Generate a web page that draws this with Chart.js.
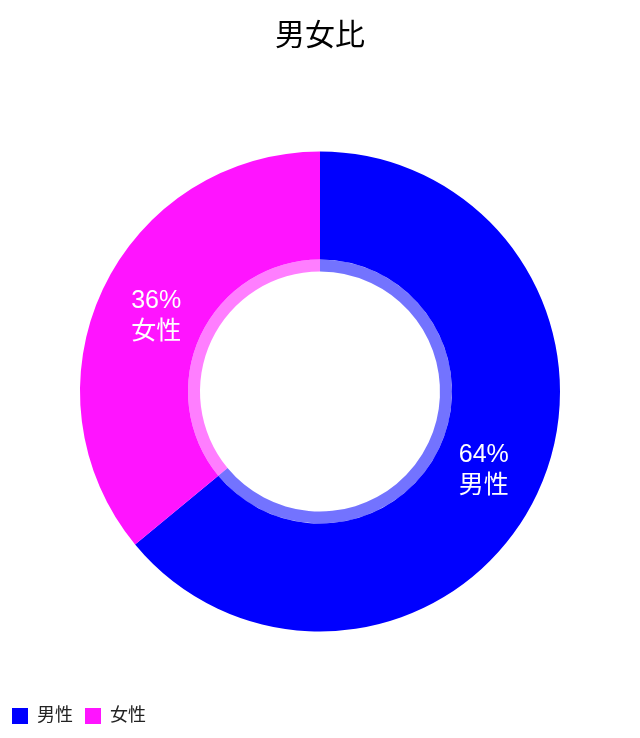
<!DOCTYPE html>
<html>
<head>
<meta charset="utf-8">
<script src="https://cdn.jsdelivr.net/npm/chart.js@4/dist/chart.umd.min.js"></script>
<style>
  html, body { margin: 0; padding: 0; background: #fff; }
  #wrap { width: 640px; height: 738px; }
</style>
</head>
<body>
<div id="wrap"><canvas id="chart" width="640" height="738"></canvas></div>
<script>
// Data
const labels = ["男性", "女性"];
const values = [64, 36];
const sliceColors = ["#0000ff", "#ff14ff"];
const innerColors = ["rgba(0,0,255,0.55)", "rgba(255,20,255,0.55)"];

const fontFamily = "'Helvetica Neue', Arial, 'Noto Sans CJK JP', sans-serif";

// Draws "64%" + label on each slice of the outer ring
const sliceLabels = {
  id: "sliceLabels",
  afterDatasetsDraw(chart) {
    const ctx = chart.ctx;
    const meta = chart.getDatasetMeta(0);
    const total = values.reduce((a, b) => a + b, 0);
    ctx.save();
    ctx.fillStyle = "#ffffff";
    ctx.font = "25px " + fontFamily;
    ctx.textAlign = "center";
    ctx.textBaseline = "middle";
    meta.data.forEach((arc, i) => {
      const p = arc.getProps(["x", "y", "startAngle", "endAngle", "innerRadius", "outerRadius"]);
      const mid = (p.startAngle + p.endAngle) / 2;
      // a little inside the middle of the ring
      const r = (p.innerRadius + p.outerRadius) / 2 - 5;
      const x = p.x + Math.cos(mid) * r;
      const y = p.y + Math.sin(mid) * r;
      const pct = Math.round((values[i] / total) * 100) + "%";
      ctx.fillText(pct, x, y - 13);
      ctx.fillText(labels[i], x, y + 18);
    });
    ctx.restore();
  },
};

Chart.defaults.font.family = fontFamily;
Chart.defaults.color = "#222";

const myChart = new Chart(document.getElementById("chart"), {
  type: "doughnut",
  plugins: [sliceLabels],
  data: {
    labels: labels,
    datasets: [
      {
        data: values,
        backgroundColor: sliceColors,
        borderWidth: 0,
        weight: 9,
      },
      {
        data: values,
        backgroundColor: innerColors,
        borderWidth: 0,
        weight: 1,
      },
    ],
  },
  options: {
    responsive: false,
    animation: false,
    radius: 240,
    cutout: "50%",
    layout: { padding: { bottom: 3 } },
    plugins: {
      tooltip: { enabled: false },
      title: {
        display: true,
        text: "男女比",
        color: "#000",
        font: { size: 30, weight: "normal" },
        padding: { top: 19, bottom: 33 },
      },
      legend: {
        position: "bottom",
        align: "start",
        labels: {
          boxWidth: 16,
          boxHeight: 16,
          padding: 12,
          font: { size: 18 },
          color: "#222",
        },
      },
    },
  },
});
</script>
</body>
</html>
